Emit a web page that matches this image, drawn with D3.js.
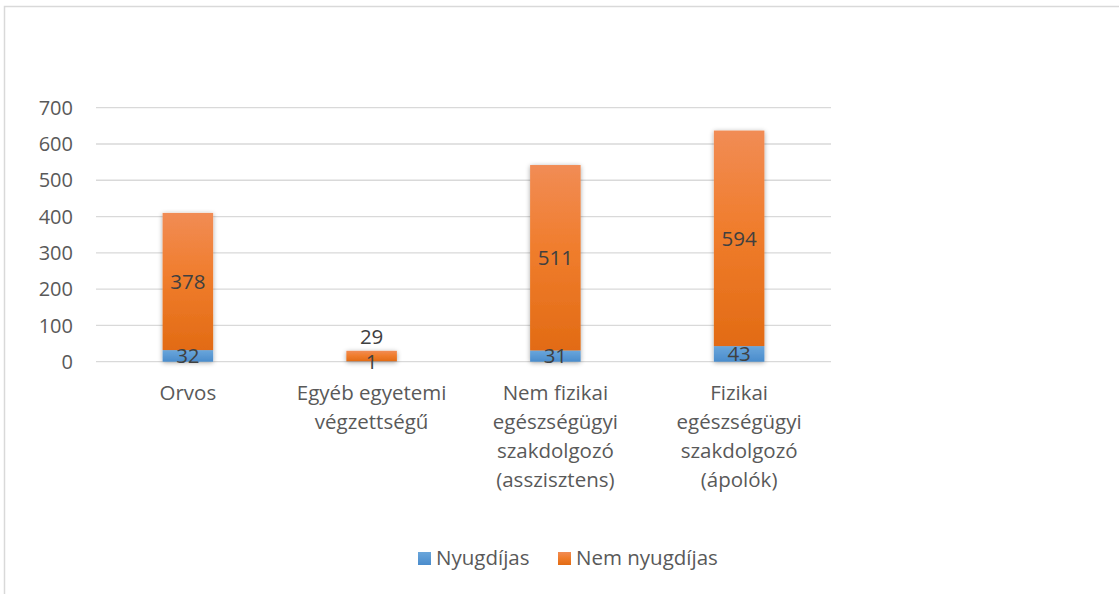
<!DOCTYPE html>
<html lang="hu">
<head>
<meta charset="utf-8">
<script src="https://d3js.org/d3.v7.min.js"></script>
<style>
  body { margin: 0; background: #fff; }
  svg { font-family: 'Open Sans', 'Noto Sans', sans-serif; }
  .grid line { stroke: #d9d9d9; stroke-width: 1.3px; }
  .tick-label { fill: #595959; font-size: 20px; }
  .cat-label { fill: #595959; font-size: 20.5px; }
  .value-label { fill: #404040; font-size: 20.5px; }
  .legend text { fill: #595959; font-size: 20.5px; }
</style>
</head>
<body>
<svg width="1119" height="594"></svg>
<script>
// data
var categories = [
  ["Orvos"],
  ["Egyéb egyetemi", "végzettségű"],
  ["Nem fizikai", "egészségügyi", "szakdolgozó", "(asszisztens)"],
  ["Fizikai", "egészségügyi", "szakdolgozó", "(ápolók)"]
];
var seriesNames = ["Nyugdíjas", "Nem nyugdíjas"];
var nyugdijas = [32, 1, 31, 43];
var nemNyugdijas = [378, 29, 511, 594];
var yTicks = [0, 100, 200, 300, 400, 500, 600, 700];

var svg = d3.select("svg");

// outer chart frame (only top and left edges visible)
svg.append("path")
    .attr("d", "M4.5,594 L4.5,6.5 L1119,6.5")
    .attr("fill", "none")
    .attr("stroke", "#d9d9d9")
    .attr("stroke-width", 1.5);

var x = d3.scaleBand()
    .domain(d3.range(categories.length))
    .range([96, 831])
    .paddingInner(0.725)
    .paddingOuter(0.3625);

var y = d3.scaleLinear().domain([0, 700]).range([361.7, 107.7]);

var defs = svg.append("defs");
var gOrange = defs.append("linearGradient").attr("id", "gOrange")
    .attr("x1", 0).attr("y1", 0).attr("x2", 0).attr("y2", 1);
gOrange.append("stop").attr("offset", "0%").attr("stop-color", "#f18c55");
gOrange.append("stop").attr("offset", "45%").attr("stop-color", "#f07d2d");
gOrange.append("stop").attr("offset", "100%").attr("stop-color", "#e26b14");
var gBlue = defs.append("linearGradient").attr("id", "gBlue")
    .attr("x1", 0).attr("y1", 0).attr("x2", 0).attr("y2", 1);
gBlue.append("stop").attr("offset", "0%").attr("stop-color", "#6aa6db");
gBlue.append("stop").attr("offset", "100%").attr("stop-color", "#4a8ccc");
var shadow = defs.append("filter").attr("id", "shadow")
    .attr("x", "-30%").attr("y", "-30%").attr("width", "160%").attr("height", "160%");
shadow.append("feGaussianBlur").attr("in", "SourceAlpha").attr("stdDeviation", 2.5);
shadow.append("feOffset").attr("dx", 0).attr("dy", 1).attr("result", "b");
shadow.append("feComponentTransfer").append("feFuncA").attr("type", "linear").attr("slope", 0.35);
var merge = shadow.append("feMerge");
merge.append("feMergeNode");
merge.append("feMergeNode").attr("in", "SourceGraphic");

// grid
svg.append("g").attr("class", "grid")
  .selectAll("line").data(yTicks).enter().append("line")
    .attr("x1", 96).attr("x2", 831)
    .attr("y1", d => y(d)).attr("y2", d => y(d));

svg.append("g").selectAll("text").data(yTicks).enter().append("text")
    .attr("class", "tick-label")
    .attr("x", 73).attr("y", d => y(d))
    .attr("dy", "0.36em")
    .attr("text-anchor", "end")
    .text(d => d);

// stacked bars
var rows = categories.map((c, i) => ({ i: i, a: nyugdijas[i], b: nemNyugdijas[i] }));
var stack = d3.stack().keys(["a", "b"])(rows);
var fills = ["url(#gBlue)", "url(#gOrange)"];

var barG = svg.append("g").attr("filter", "url(#shadow)");
stack.forEach((layer, k) => {
  barG.selectAll(null).data(layer).enter().append("rect")
      .attr("x", d => x(d.data.i))
      .attr("width", x.bandwidth())
      .attr("y", d => y(d[1]))
      .attr("height", d => y(d[0]) - y(d[1]))
      .attr("fill", fills[k]);
});

// value labels, nudged upward when they would collide
var labelH = 25;
rows.forEach(r => {
  var cx = x(r.i) + x.bandwidth() / 2;
  var yA = y(r.a / 2);
  var yB = y(r.a + r.b / 2);
  if (yA - yB < labelH) yB = yA - labelH;
  [[r.a, yA], [r.b, yB]].forEach(p => {
    svg.append("text").attr("class", "value-label")
        .attr("x", cx).attr("y", p[1])
        .attr("dy", "0.36em")
        .attr("text-anchor", "middle")
        .text(p[0]);
  });
});

// category labels
var cat = svg.append("g").selectAll("text").data(categories).enter().append("text")
    .attr("class", "cat-label")
    .attr("text-anchor", "middle")
    .attr("x", (d, i) => x(i) + x.bandwidth() / 2)
    .attr("y", 400);
cat.selectAll("tspan").data(d => d).enter().append("tspan")
    .attr("x", function () { return d3.select(this.parentNode).attr("x"); })
    .attr("dy", (d, j) => j === 0 ? 0 : 29)
    .text(d => d);

// legend
var legend = svg.append("g").attr("class", "legend");
var legendX = [418, 558];
seriesNames.forEach((name, k) => {
  legend.append("rect")
      .attr("x", legendX[k]).attr("y", 552)
      .attr("width", 13).attr("height", 13)
      .attr("fill", fills[k]);
  legend.append("text")
      .attr("x", legendX[k] + 18).attr("y", 565)
      .text(name);
});
</script>
</body>
</html>
